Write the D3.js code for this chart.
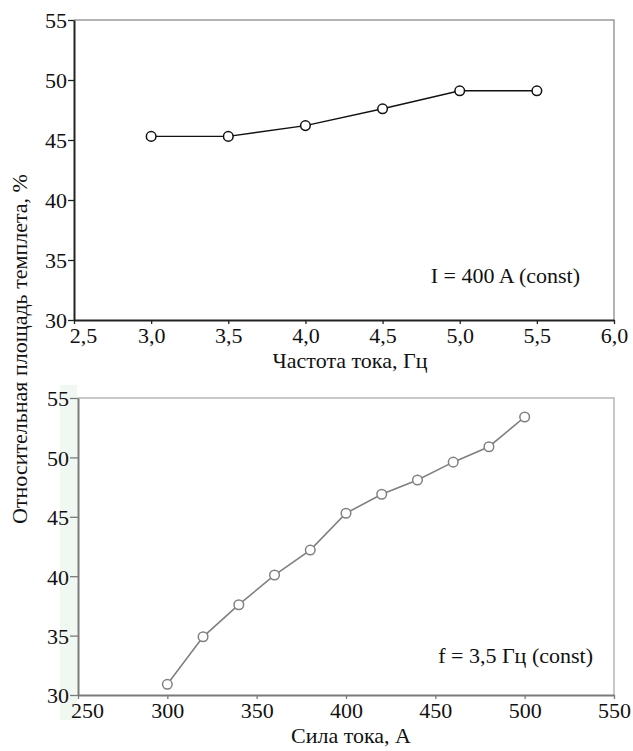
<!DOCTYPE html>
<html>
<head>
<meta charset="utf-8">
<script src="https://cdn.jsdelivr.net/npm/d3@7"></script>
<style>
  body { margin: 0; background: #fff; }
</style>
</head>
<body>
<svg id="chart" width="633" height="751"></svg>
<script>
// top chart: frequency vs relative area (I = 400 A)
const freq = [3.0, 3.5, 4.0, 4.5, 5.0, 5.5];
const areaByFreq = [45.3, 45.3, 46.2, 47.6, 49.1, 49.1];
const freqTicks = [2.5, 3.0, 3.5, 4.0, 4.5, 5.0, 5.5, 6.0];

// bottom chart: current vs relative area (f = 3.5 Hz)
const current = [300, 320, 340, 360, 380, 400, 420, 440, 460, 480, 500];
const areaByCurrent = [30.9, 34.9, 37.6, 40.1, 42.2, 45.3, 46.9, 48.1, 49.6, 50.9, 53.4];
const currentTicks = [250, 300, 350, 400, 450, 500, 550];

const yTicks = [30, 35, 40, 45, 50, 55];

const FONT = '"Liberation Serif", "Times New Roman", serif';
const svg = d3.select("#chart");
const comma = d => d.toFixed(1).replace(".", ",");

function styleText(sel, size) {
  sel.style("font-family", FONT).style("font-size", size + "px").attr("fill", "#111");
}

function drawPanel(opt) {
  const x = d3.scaleLinear().domain(opt.xDomain).range([opt.left, opt.right]);
  const y = d3.scaleLinear().domain([30, 55]).range([opt.bottom, opt.top]);
  const g = svg.append("g");

  // frame (top + right)
  g.append("path")
    .attr("d", `M${opt.left},${opt.top}H${opt.right}V${opt.bottom}`)
    .attr("fill", "none")
    .attr("stroke", opt.frameColor)
    .attr("stroke-width", 1.5);

  const xAxis = g.append("g")
    .attr("transform", `translate(0,${opt.bottom})`)
    .call(d3.axisBottom(x).tickValues(opt.xTicks).tickFormat(opt.xFormat).tickSize(4).tickSizeOuter(0));
  const yAxis = g.append("g")
    .attr("transform", `translate(${opt.left},0)`)
    .call(d3.axisLeft(y).tickValues(yTicks).tickSize(opt.yTick).tickSizeOuter(0));

  [xAxis, yAxis].forEach(a => {
    a.select(".domain").attr("stroke", opt.axisColor).attr("stroke-width", 2);
    a.selectAll(".tick line").attr("stroke", opt.axisColor).attr("stroke-width", 1.3);
    styleText(a.selectAll("text"), 22);
  });
  xAxis.selectAll("text").attr("y", 5).attr("dy", "0.8em")
    .attr("x", (d, i) => i === 0 ? 9 : 0);
  yAxis.selectAll("text").attr("x", -opt.yTick - 1).attr("dy", "0.36em");

  const line = d3.line().x(d => x(d[0])).y(d => y(d[1]));
  const pts = opt.xs.map((v, i) => [v, opt.ys[i]]);
  g.append("path")
    .datum(pts)
    .attr("d", line)
    .attr("fill", "none")
    .attr("stroke", opt.lineColor)
    .attr("stroke-width", opt.lineWidth);

  g.selectAll("circle")
    .data(pts)
    .enter().append("circle")
    .attr("cx", d => x(d[0]))
    .attr("cy", d => y(d[1]))
    .attr("r", 4.8)
    .attr("fill", "#fff")
    .attr("stroke", opt.lineColor)
    .attr("stroke-width", 1.5);

  styleText(g.append("text")
    .attr("x", opt.titleX)
    .attr("y", opt.bottom + 48)
    .attr("text-anchor", "middle")
    .text(opt.xTitle), 22);

  styleText(g.append("text")
    .attr("x", opt.noteX)
    .attr("y", opt.noteY)
    .attr("text-anchor", "end")
    .text(opt.note), 22);
}

// faint tint at the left edge of the lower panel
svg.append("rect")
  .attr("x", 60).attr("y", 385).attr("width", 17).attr("height", 335)
  .attr("fill", "#f1f8f2");

drawPanel({
  xs: freq, ys: areaByFreq, xDomain: [2.5, 6.0], xTicks: freqTicks, xFormat: comma,
  left: 74, right: 614, top: 20, bottom: 320, yTick: 6,
  axisColor: "#222", frameColor: "#9a9a9a", lineColor: "#111", lineWidth: 1.4,
  xTitle: "Частота тока, Гц", titleX: 350, note: "I = 400 A (const)", noteX: 580, noteY: 283
});

drawPanel({
  xs: current, ys: areaByCurrent, xDomain: [250, 550], xTicks: currentTicks, xFormat: d3.format("d"),
  left: 78, right: 614, top: 398, bottom: 695, yTick: 8,
  axisColor: "#7a7a7a", frameColor: "#b5b5b5", lineColor: "#808080", lineWidth: 1.6,
  xTitle: "Сила тока, А", titleX: 351, note: "f = 3,5 Гц (const)", noteX: 593, noteY: 663
});

// shared y-axis title
styleText(svg.append("text")
  .attr("transform", "translate(27,349) rotate(-90)")
  .attr("text-anchor", "middle")
  .text("Относительная площадь темплета, %"), 22);
</script>
</body>
</html>
